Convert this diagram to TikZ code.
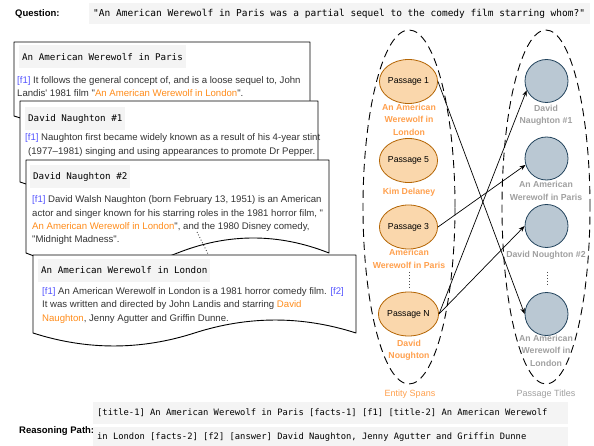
\documentclass[tikz,border=0pt]{standalone}
\usepackage{fontspec}
\newfontfamily\bodyf{Liberation Sans}
\newfontfamily\monof{DejaVu Sans Mono}
\usetikzlibrary{arrows.meta,shapes.geometric}
\definecolor{txt}{HTML}{333333}
\definecolor{fblue}{HTML}{5555FF}
\definecolor{ftxt}{HTML}{FF8C1A}
\definecolor{flab}{HTML}{FFA04D}
\definecolor{glab}{HTML}{A0A0A0}
\definecolor{boxg}{HTML}{F4F4F4}
\definecolor{pfill}{HTML}{FAD7AC}
\definecolor{pdraw}{HTML}{B46504}
\definecolor{cfill}{HTML}{BAC8D3}
\definecolor{cdraw}{HTML}{23445D}
\begin{document}
\begin{tikzpicture}[x=1pt,y=-1pt,
  card/.style={draw=black, fill=white, line width=0.9pt, line join=round},
  titlebox/.style={fill=boxg, anchor=west, inner xsep=3pt, inner ysep=0pt, minimum height=23pt, font=\monof\fontsize{9.2}{11}\selectfont, text=black},
  bodyl/.style={anchor=base west, inner sep=0pt, font=\bodyf\fontsize{9.6}{11}\selectfont, text=txt},
  passage/.style={ellipse, draw=pdraw, fill=pfill, minimum width=47pt, minimum height=44pt, inner sep=0pt, font=\bodyf\fontsize{8.7}{10}\selectfont, text=black, line width=0.8pt},
  ptitle/.style={circle, draw=cdraw, fill=cfill, minimum size=43pt, inner sep=0pt, line width=0.8pt},
  olab/.style={text=flab, font=\bodyf\bfseries\fontsize{8.7}{12.5}\selectfont, align=center, inner sep=0pt},
  glabl/.style={text=glab, font=\bodyf\bfseries\fontsize{8.7}{12.5}\selectfont, align=center, inner sep=0pt},
  conn/.style={-{Stealth[length=6pt,width=4.5pt]}, line width=0.7pt},
  grp/.style={ellipse, draw=black, dash pattern=on 8pt off 5pt, line width=0.9pt, inner sep=0pt},
  qlab/.style={font=\bodyf\bfseries\fontsize{9.5}{11}\selectfont, inner sep=0pt},
  monoline/.style={anchor=west, inner sep=0pt, font=\monof\fontsize{8.8}{11}\selectfont, text=black},
  vdots/.style={dotted, line width=0.9pt, black!70}
]
\useasboundingbox (0,0) rectangle (594,446);
\fill[white] (0,0) rectangle (594,446);

% Question
\fill[boxg] (89,3) rectangle (590,24);
\node[qlab, anchor=west] (qlab) at (15,13.5) {Question:};
\node[monoline, font=\monof\fontsize{9.5}{11}\selectfont] (qtext) at (93,13.5) {"An American Werewolf in Paris was a partial sequel to the comedy film starring whom?"};

% Card 1
\path[card] (14,42) -- (310,42) -- (310,116) .. controls (260.7,100) and (211.3,100) .. (162,116) .. controls (112.7,132) and (63.3,132) .. (14,116) -- cycle;
\node[titlebox] (t1) at (19,57) {An American Werewolf in Paris};
\node[bodyl] (c1a) at (17,83.4) {\textcolor{fblue}{[f1]} It follows the general concept of, and is a loose sequel to, John};
\node[bodyl] (c1b) at (17,96.4) {Landis' 1981 film "\textcolor{ftxt}{An American Werewolf in London}".};

% Card 2
\path[card] (20,101) -- (318,101) -- (318,182) .. controls (268.3,164.7) and (218.7,164.7) .. (169,182) .. controls (119.3,199.3) and (69.7,199.3) .. (20,182) -- cycle;
\node[titlebox] (t2) at (25,118.5) {David Naughton \#1};
\node[bodyl] (c2a) at (25,140.4) {\textcolor{fblue}{[f1]} Naughton first became widely known as a result of his 4-year stint};
\node[bodyl] (c2b) at (28,154.4) {(1977–1981) singing and using appearances to promote Dr Pepper.};

% Card 3
\path[card] (26,160) -- (329,160) -- (329,253) .. controls (278.5,233) and (228,233) .. (177.5,253) .. controls (127,273) and (76.5,273) .. (26,253) -- cycle;
\node[titlebox] (t3) at (30,176.5) {David Naughton \#2};
\node[bodyl] (c3a) at (32,202.4) {\textcolor{fblue}{[f1]} David Walsh Naughton (born February 13, 1951) is an American};
\node[bodyl] (c3b) at (32,216.4) {actor and singer known for his starring roles in the 1981 horror film, "};
\node[bodyl] (c3c) at (32,229.4) {\textcolor{ftxt}{An American Werewolf in London}", and the 1980 Disney comedy,};
\node[bodyl] (c3d) at (32,242.4) {"Midnight Madness".};
\coordinate (d1) at (197,232);
\coordinate (d2) at (208,254);
\draw[vdots] (d1) -- (d2);

% Card 4
\path[card] (33,255) -- (356,255) -- (356,333) .. controls (302.2,315.7) and (248.3,315.7) .. (194.5,333) .. controls (140.7,350.3) and (86.8,350.3) .. (33,333) -- cycle;
\node[titlebox] (t4) at (38,270.5) {An American Werewolf in London};
\node[bodyl] (c4a) at (42,294.4) {\textcolor{fblue}{[f1]} An American Werewolf in London is a 1981 horror comedy film. \textcolor{fblue}{[f2]}};
\node[bodyl] (c4b) at (42,307.4) {It was written and directed by John Landis and starring \textcolor{ftxt}{David}};
\node[bodyl] (c4c) at (42,321.4) {\textcolor{ftxt}{Naughton}, Jenny Agutter and Griffin Dunne.};

% Groups
\node[grp, minimum width=92pt, minimum height=354pt] (g1) at (409,207) {};
\node[grp, minimum width=88pt, minimum height=354pt] (g2) at (546,207) {};

% Passages
\node[passage] (p1) at (408.5,81.5) {Passage 1};
\node[olab] (l1) at (409,119.5) {An American\\Werewolf in\\London};
\node[passage] (p5) at (408.5,160.5) {Passage 5};
\node[olab] (l5) at (409,192) {Kim Delaney};
\node[passage] (p3) at (408.5,227) {Passage 3};
\node[olab] (l3) at (409,259) {American\\Werewolf in Paris};
\coordinate (pd1) at (409,272);
\coordinate (pd2) at (409,288);
\draw[vdots] (pd1) -- (pd2);
\node[passage] (pn) at (408.5,314) {Passage N};
\node[olab] (ln) at (409,350.5) {David\\Noughton};

% Titles
\node[ptitle] (q1) at (546.5,81) {};
\node[glabl] (m1) at (546,115.5) {David\\Naughton \#1};
\node[ptitle] (q2) at (546.5,158.5) {};
\node[glabl] (m2) at (546,191) {An American\\Werewolf in Paris};
\node[ptitle] (q3) at (546.5,226) {};
\node[glabl] (m3) at (546,255) {David Noughton \#2};
\coordinate (qd1) at (547,272);
\coordinate (qd2) at (547,285);
\draw[vdots] (qd1) -- (qd2);
\node[ptitle] (q4) at (546.5,314) {};
\node[glabl] (m4) at (546,350.5) {An American\\Werewolf in\\London};

% Connectors
\draw[conn] (p1.east) -- (q4.west);
\draw[conn] (p3.east) -- (q2.197);
\draw[conn] (pn.east) -- (q1.205);
\draw[conn] (pn.east) -- (q3.west);

\node[inner sep=0pt, text=flab, font=\bodyf\fontsize{9}{11}\selectfont] (es) at (410,394) {Entity Spans};
\node[inner sep=0pt, text=glab, font=\bodyf\fontsize{9}{11}\selectfont] (pt) at (546,394) {Passage Titles};

% Reasoning path
\fill[boxg] (93,402) rectangle (568,424);
\fill[boxg] (93,427) rectangle (568,446);
\node[qlab, anchor=west] (rlab) at (19,431) {Reasoning Path:};
\node[monoline] (r1) at (97,413) {[title-1] An American Werewolf in Paris [facts-1] [f1] [title-2] An American Werewolf};
\node[monoline] (r2) at (97,437) {in London [facts-2] [f2] [answer] David Naughton, Jenny Agutter and Griffin Dunne};
\end{tikzpicture}
\end{document}
